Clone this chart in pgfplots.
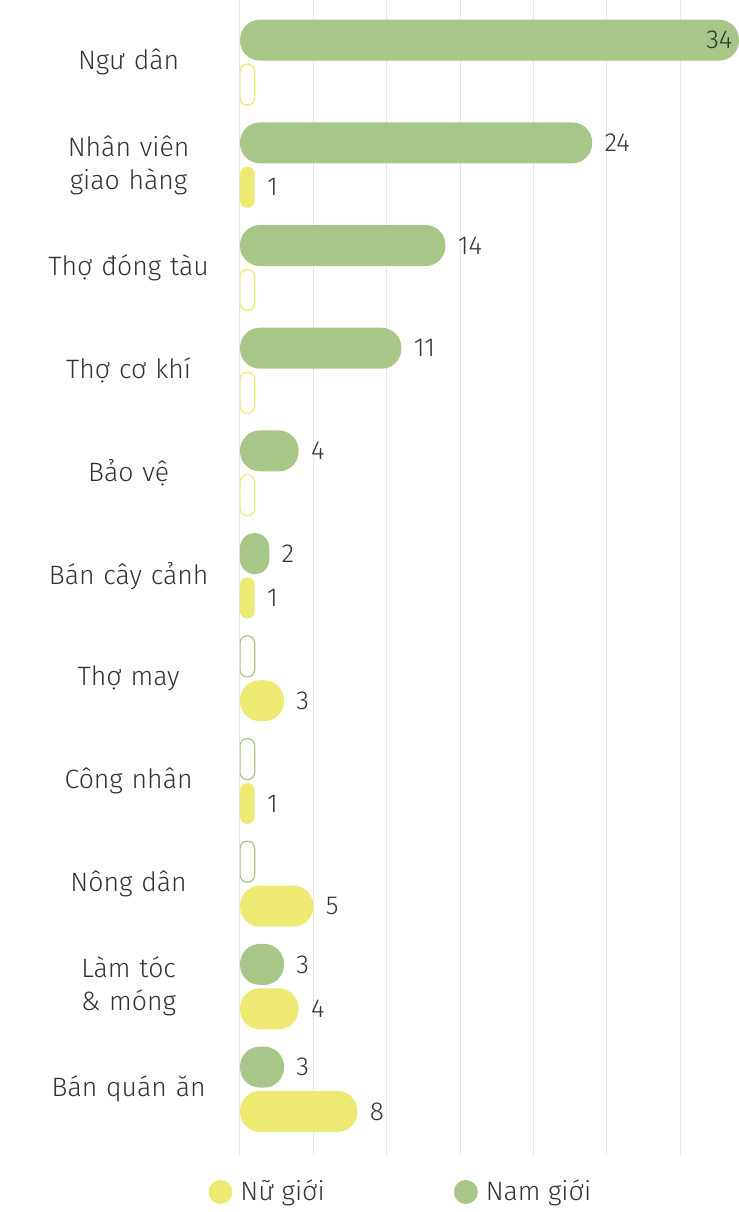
\documentclass[border=0pt]{standalone}
\usepackage{fontspec}
\setmainfont{Fira Sans Light}
\usepackage{pgfplots}
\usepackage{pgfplotstable}
\pgfplotsset{compat=1.18}
\definecolor{nam}{HTML}{A8C687}
\definecolor{nu}{HTML}{ECEA73}
\definecolor{txt}{HTML}{333333}
\pgfplotstableread{
idx nam nu
0 34 0
1 24 1
2 14 0
3 11 0
4 4 0
5 2 1
6 0 3
7 0 1
8 0 5
9 3 4
10 3 8
}\data
\begin{document}
\begin{tikzpicture}
\begin{axis}[
  name=ax,
  scale only axis,
  width=249.5pt, height=577.5pt,
  xmin=0, xmax=34,
  ymin=-0.607, ymax=10.64,
  y dir=reverse,
  axis line style={draw=none},
  major tick length=0pt,
  xtick={0,5,...,30},
  xticklabels={},
  xmajorgrids,
  grid style={line width=0.5pt, draw=black!10},
  ytick={0,...,10},
  yticklabels={Ngư dân,{Nhân viên\\giao hàng},Thợ đóng tàu,Thợ cơ khí,Bảo vệ,Bán cây cảnh,Thợ may,Công nhân,Nông dân,{Làm tóc\\\& móng},Bán quán ăn},
  yticklabel style={font=\fontsize{13.3}{16.5}\selectfont, text width=90pt, align=center, inner sep=0pt, xshift=-10.5pt, text=txt},
  /pgf/number format/assume math mode=true,
  xbar, bar width=20.5pt,
  point meta=x,
  nodes near coords style={font=\fontsize{13}{15}\selectfont, text=txt, inner sep=0pt, xshift=6pt},
  legend style={at={(-0.088,-0.032)}, anchor=west, draw=none, fill=none,
    font=\fontsize{13.3}{15}\selectfont, text=txt,
    /tikz/every even column/.append style={column sep=59.5pt}},
  legend columns=2,
]
% Nam gioi (green)
\addplot[forget plot, fill=nam, draw=none, bar shift=11.1pt, rounded corners=10pt,
  restrict x to domain=2.5:30, nodes near coords] table[x=nam, y=idx] {\data};
\addplot[forget plot, fill=nam, draw=none, bar shift=11.1pt, rounded corners=10pt,
  restrict x to domain=30:40, nodes near coords,
  nodes near coords style={xshift=-22.5pt}] table[x=nam, y=idx] {\data};
\addplot[forget plot, fill=nam, draw=none, bar shift=11.1pt, rounded corners=7.3pt,
  restrict x to domain=1.5:2.5, nodes near coords] table[x=nam, y=idx] {\data};
\addplot[forget plot, fill=white, draw=nam, line width=0.6pt, bar shift=11.1pt, rounded corners=3.6pt,
  x filter/.expression={x==0 ? 1 : nan}] table[x=nam, y=idx] {\data};
% Nu gioi (yellow)
\addplot[forget plot, fill=nu, draw=none, bar shift=-11.1pt, rounded corners=10pt,
  restrict x to domain=2.5:40, nodes near coords] table[x=nu, y=idx] {\data};
\addplot[forget plot, fill=nu, draw=none, bar shift=-11.1pt, rounded corners=3.6pt,
  restrict x to domain=0.5:1.5, nodes near coords] table[x=nu, y=idx] {\data};
\addplot[forget plot, fill=white, draw=nu, line width=0.6pt, bar shift=-11.1pt, rounded corners=3.6pt,
  x filter/.expression={x==0 ? 1 : nan}] table[x=nu, y=idx] {\data};
\addlegendimage{legend image code/.code={\path[draw=none, fill=none] (0pt,-0.1pt) rectangle (17pt,0.1pt); \fill[nu, draw=none] (9pt,0pt) circle (6pt);}}
\addlegendentry{Nữ giới}
\addlegendimage{legend image code/.code={\path[draw=none, fill=none] (0pt,-0.1pt) rectangle (17pt,0.1pt); \fill[nam, draw=none] (9pt,0pt) circle (6pt);}}
\addlegendentry{Nam giới}
\end{axis}
\pgfresetboundingbox
\path (ax.north west) ++(-120pt,0pt) rectangle ++(369.5pt,-606pt);
\end{tikzpicture}
\end{document}
